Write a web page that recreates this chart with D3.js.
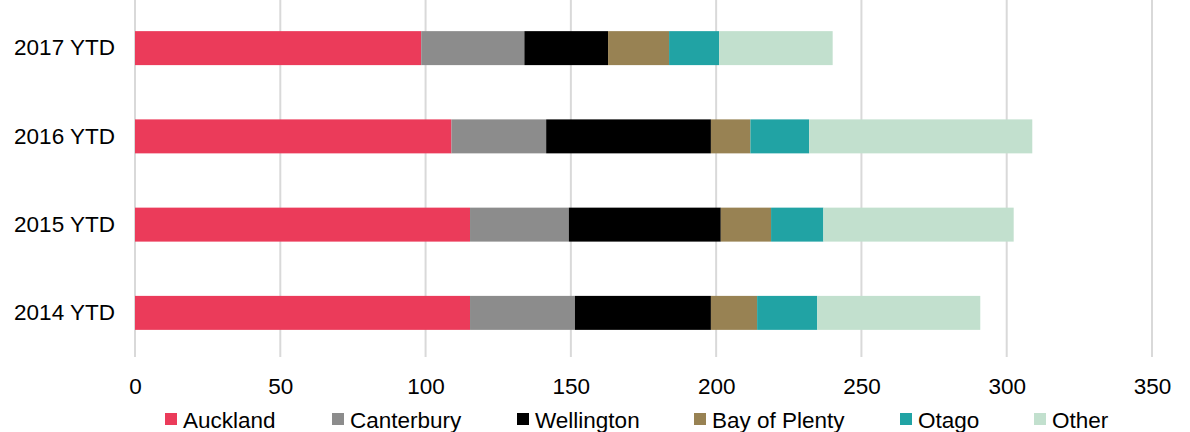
<!DOCTYPE html>
<html>
<head>
<meta charset="utf-8">
<script src="https://cdn.jsdelivr.net/npm/d3@7"></script>
<style>
  html, body { margin: 0; padding: 0; background: #fff; }
  svg { display: block; font-family: "Liberation Sans", Arial, sans-serif; }
</style>
</head>
<body>
<svg id="chart" width="1190" height="432"></svg>
<script>
// Year-to-date totals by region, stacked left to right
const periods = ["2017 YTD", "2016 YTD", "2015 YTD", "2014 YTD"];
const regions = ["Auckland", "Canterbury", "Wellington", "Bay of Plenty", "Otago", "Other"];
const colors = ["#EB3B5A", "#8C8C8C", "#000000", "#988253", "#21A3A4", "#C2E0CE"];

const auckland    = [98.5, 108.9, 115.3, 115.3];
const canterbury  = [35.5, 32.6, 34.0, 36.1];
const wellington  = [28.8, 56.7, 52.3, 46.8];
const bayOfPlenty = [21.0, 13.6, 17.3, 15.9];
const otago       = [17.2, 20.2, 18.0, 20.7];
const other       = [39.1, 76.8, 65.5, 56.1];

const xTicks = [0, 50, 100, 150, 200, 250, 300, 350];

const series = [auckland, canterbury, wellington, bayOfPlenty, otago, other];
const rows = periods.map((p, i) => {
  const r = { period: p };
  regions.forEach((g, j) => { r[g] = series[j][i]; });
  return r;
});

const svg = d3.select("#chart");
const plot = { left: 135, right: 1152, top: 4, bottom: 357 };
const fontSize = 22.5;

const x = d3.scaleLinear().domain([0, 350]).range([plot.left, plot.right]);
const y = d3.scaleBand().domain(periods).range([plot.top, plot.bottom]).paddingInner(0.615).paddingOuter(0.3075);

// vertical gridlines
svg.append("g")
  .selectAll("line")
  .data(xTicks)
  .join("line")
  .attr("x1", d => x(d)).attr("x2", d => x(d))
  .attr("y1", 0).attr("y2", plot.bottom)
  .attr("stroke", "#D9D9D9")
  .attr("stroke-width", 2);

// stacked bars
const stack = d3.stack().keys(regions)(rows);
svg.append("g")
  .selectAll("g")
  .data(stack)
  .join("g")
  .attr("fill", (d, i) => colors[i])
  .selectAll("rect")
  .data(d => d)
  .join("rect")
  .attr("x", d => x(d[0]))
  .attr("width", d => x(d[1]) - x(d[0]))
  .attr("y", d => y(d.data.period))
  .attr("height", y.bandwidth());

// x axis labels
const xAxis = d3.axisBottom(x).tickValues(xTicks).tickSize(0).tickPadding(0);
const gx = svg.append("g").attr("transform", `translate(0,${plot.bottom})`).call(xAxis);
gx.select(".domain").remove();
gx.selectAll("text")
  .attr("dy", null)
  .attr("y", 36.5)
  .attr("font-size", fontSize)
  .attr("font-family", "Liberation Sans, Arial, sans-serif")
  .attr("fill", "#000");

// y axis labels
const yAxis = d3.axisLeft(y).tickSize(0).tickPadding(0);
const gy = svg.append("g").attr("transform", `translate(115,0)`).call(yAxis);
gy.select(".domain").remove();
gy.selectAll("text")
  .attr("font-size", fontSize)
  .attr("font-family", "Liberation Sans, Arial, sans-serif")
  .attr("fill", "#000");

// legend
const legendX = [165, 332, 517, 694, 900, 1034];
const legend = svg.append("g");
regions.forEach((r, i) => {
  const g = legend.append("g").attr("transform", `translate(${legendX[i]},0)`);
  g.append("rect").attr("x", 0).attr("y", 413).attr("width", 12).attr("height", 12).attr("fill", colors[i]);
  g.append("text").attr("x", 18).attr("y", 428)
    .attr("font-size", fontSize).attr("fill", "#000").text(r);
});
</script>
</body>
</html>
